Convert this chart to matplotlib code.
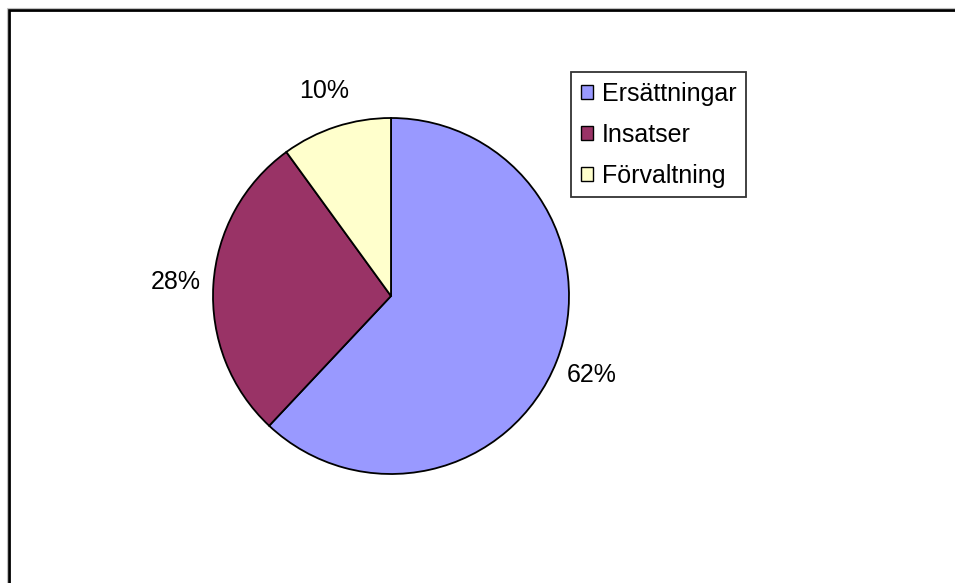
import matplotlib.pyplot as plt
from matplotlib.patches import Rectangle, Patch

# data
labels = ["Ersättningar", "Insatser", "Förvaltning"]
shares = [62, 28, 10]
colors = ["#9999FF", "#993366", "#FFFFCC"]

plt.rcParams['font.family'] = ['Liberation Sans', 'DejaVu Sans']

W, H = 955, 583
fig = plt.figure(figsize=(W / 100, H / 100), dpi=100)

# outer chart border (runs off the right and bottom edge)
fig.patches.append(Rectangle((8.5 / W, -0.1), 1.2, 1.1 - 10.5 / H,
                             transform=fig.transFigure, fill=False,
                             edgecolor="black", linewidth=2.0))
fig.patches.append(Rectangle((6.5 / W, -0.1), 1.2, 1.1 - 8 / H,
                             transform=fig.transFigure, fill=False,
                             edgecolor="#c0c0c0", linewidth=0.8))

# pie axes: centre (391, 296), radius 178 px
cx, cy, r = 391, 296, 178
ax = fig.add_axes([(cx - r) / W, (H - cy - r) / H, 2 * r / W, 2 * r / H])
wedges, texts, autotexts = ax.pie(
    shares, colors=colors, startangle=90, counterclock=False,
    autopct="%d%%", pctdistance=1.21,
    wedgeprops=dict(edgecolor="black", linewidth=1.3),
    textprops=dict(fontsize=18, color="black"))
ax.set_xlim(-1, 1)
ax.set_ylim(-1, 1)
ax.set_aspect("equal")
ax.axis("off")

handles = [Patch(facecolor=c, edgecolor="black", linewidth=1.0) for c in colors]
leg = fig.legend(handles, labels, loc="upper left",
                 bbox_to_anchor=(571 / W, 1 - 72 / H),
                 fontsize=18, frameon=True, fancybox=False,
                 handlelength=0.5, handleheight=0.5, handletextpad=0.35,
                 labelspacing=0.68, borderpad=0.38, borderaxespad=0)
leg.get_frame().set_edgecolor("black")
leg.get_frame().set_linewidth(1.3)

fig.savefig("out.png", dpi=100)
